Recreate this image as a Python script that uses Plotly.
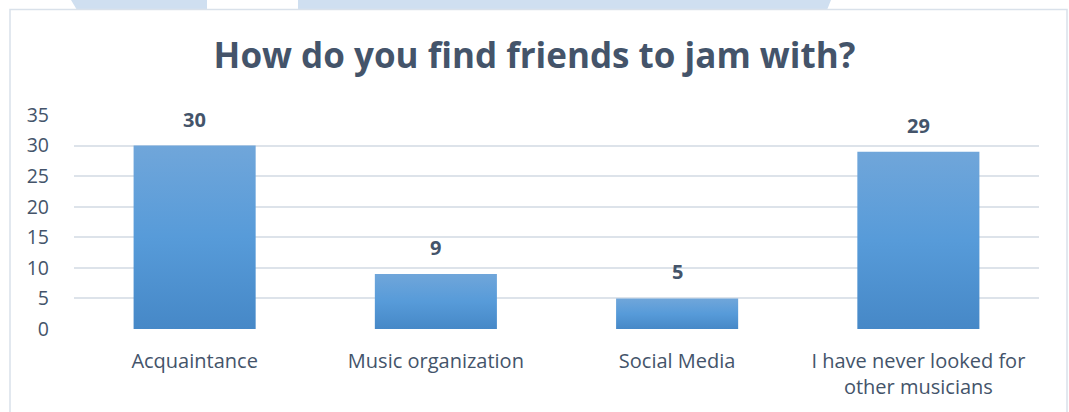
import plotly.graph_objects as go

# Survey answers and counts
categories = [
    "Acquaintance",
    "Music organization",
    "Social Media",
    "I have never looked for<br>other musicians",
]
counts = [30, 9, 5, 29]
y_ticks = [0, 5, 10, 15, 20, 25, 30, 35]

title_text = "How do you find friends to jam with?"

W, H = 1069, 412
ML, MR, MT, MB = 74, 30, 115, 83
PW, PH = W - ML - MR, H - MT - MB

TEXT = "#44546a"
GRID = "#dde3ea"
FONT = "Open Sans"


def px(x):
    """Pixel x -> paper x."""
    return (x - ML) / PW


def py(y):
    """Pixel y (from top) -> paper y."""
    return (H - MB - y) / PH


fig = go.Figure()

fig.add_trace(
    go.Bar(
        x=categories,
        y=counts,
        width=0.506,
        marker=dict(color="#5a98d3", line=dict(width=0)),
        hoverinfo="skip",
    )
)

# value labels above each bar
for c, v in zip(categories, counts):
    fig.add_annotation(
        x=c, y=v, text=f"<b>{v}</b>", showarrow=False,
        yanchor="bottom", yshift=11,
        font=dict(family=FONT, size=20, color=TEXT),
    )

shapes = []
# light-blue banner pieces along the top edge
shapes.append(dict(
    type="path", xref="paper", yref="paper",
    path=f"M {px(71)} {py(0)} L {px(207)} {py(0)} L {px(207)} {py(10)} L {px(77)} {py(10)} Z",
    fillcolor="#cfdff0", line=dict(width=0), layer="below",
))
shapes.append(dict(
    type="path", xref="paper", yref="paper",
    path=f"M {px(298)} {py(0)} L {px(831)} {py(0)} L {px(827)} {py(10)} L {px(298)} {py(10)} Z",
    fillcolor="#cfdff0", line=dict(width=0), layer="below",
))
# chart frame
shapes.append(dict(
    type="rect", xref="paper", yref="paper",
    x0=px(10), x1=px(1067), y0=py(430), y1=py(9.5),
    fillcolor="white", line=dict(color="#d9e1ea", width=1.5), layer="below",
))
fig.update_layout(shapes=shapes)

fig.update_layout(
    width=W, height=H,
    margin=dict(l=ML, r=MR, t=MT, b=MB, pad=0),
    paper_bgcolor="white",
    plot_bgcolor="rgba(0,0,0,0)",
    showlegend=False,
    bargap=0.5,
    title=dict(
        text=f"<b>{title_text}</b>",
        x=0.5, xref="container", xanchor="center",
        y=1 - 56 / H, yref="container", yanchor="middle",
        font=dict(family=FONT, size=35, color=TEXT),
    ),
    font=dict(family=FONT, color=TEXT),
)

fig.update_xaxes(
    showgrid=False, zeroline=False, showline=False, ticks="",
    tickfont=dict(family=FONT, size=20, color=TEXT),
    ticklabelstandoff=18,
)
fig.update_yaxes(
    range=[0, 35], tickvals=y_ticks, ticktext=[str(t) for t in y_ticks],
    showgrid=True, gridcolor=GRID, gridwidth=1.5,
    zeroline=False, showline=False, ticks="",
    tickfont=dict(family=FONT, size=19.5, color=TEXT),
    ticklabelstandoff=24,
)

# vertical light-to-dark shading on each bar
post = """
var gd = document.getElementById('{plot_id}');
function shadeBars() {
  var svg = gd.querySelector('svg.main-svg');
  var defs = svg.querySelector('defs');
  if (!document.getElementById('barShade')) {
    var ns = 'http://www.w3.org/2000/svg';
    var g = document.createElementNS(ns, 'linearGradient');
    g.setAttribute('id', 'barShade');
    g.setAttribute('x1', '0'); g.setAttribute('y1', '0');
    g.setAttribute('x2', '0'); g.setAttribute('y2', '1');
    [['0', '#70a6da'], ['0.5', '#579bd9'], ['1', '#4688c7']].forEach(function (s) {
      var st = document.createElementNS(ns, 'stop');
      st.setAttribute('offset', s[0]);
      st.setAttribute('stop-color', s[1]);
      g.appendChild(st);
    });
    defs.appendChild(g);
  }
  gd.querySelectorAll('.bars .point path').forEach(function (p) {
    p.style.fill = 'url(#barShade)';
  });
}
shadeBars();
gd.on('plotly_afterplot', shadeBars);
"""

fig.write_html("out.html", post_script=post, config={"displayModeBar": False})
